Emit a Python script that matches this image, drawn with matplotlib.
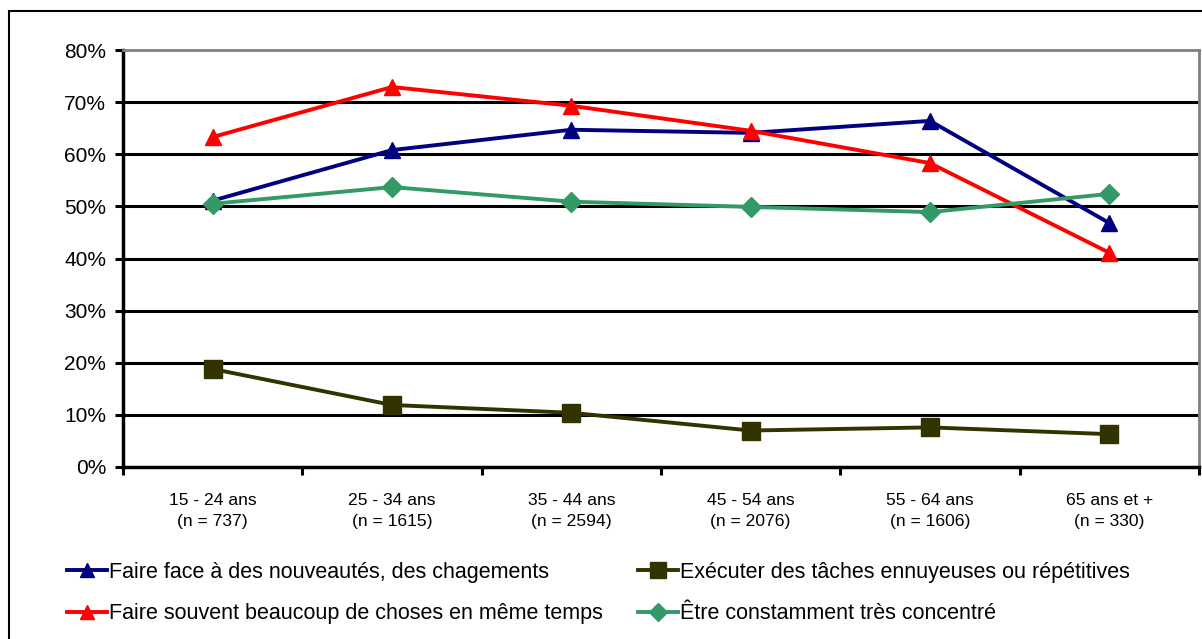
import matplotlib
matplotlib.use("Agg")
import matplotlib.pyplot as plt
from matplotlib import font_manager
from matplotlib.patches import Rectangle

categories = ["15 - 24 ans\n(n = 737)", "25 - 34 ans\n(n = 1615)", "35 - 44 ans\n(n = 2594)",
              "45 - 54 ans\n(n = 2076)", "55 - 64 ans\n(n = 1606)", "65 ans et +\n(n = 330)"]
nouveautes = [51.1, 60.8, 64.7, 64.1, 66.4, 46.8]
taches = [18.8, 11.9, 10.4, 7.0, 7.6, 6.3]
choses = [63.3, 72.9, 69.3, 64.5, 58.3, 41.1]
concentre = [50.5, 53.7, 50.9, 49.9, 48.9, 52.4]
yticks = [0, 10, 20, 30, 40, 50, 60, 70, 80]

names = [f.name for f in font_manager.fontManager.ttflist]
base = "Liberation Sans" if "Liberation Sans" in names else "DejaVu Sans"
plt.rcParams['font.family'] = [base, 'DejaVu Sans']

fig = plt.figure(figsize=(12.02, 6.39), dpi=100)
ax = fig.add_axes([123/1202, 1 - 467/639, (1199-123)/1202, (467-50)/639])

x = list(range(len(categories)))
l1, = ax.plot(x, nouveautes, color="#000080", lw=2.8, marker="^", ms=12, label="Faire face à des nouveautés, des chagements", zorder=5)
l2, = ax.plot(x, taches, color="#333300", lw=2.8, marker="s", ms=13, label="Exécuter des tâches ennuyeuses ou répétitives", zorder=5)
l3, = ax.plot(x, choses, color="#FF0000", lw=2.8, marker="^", ms=12, label="Faire souvent beaucoup de choses en même temps", zorder=5)
l4, = ax.plot(x, concentre, color="#339966", lw=2.8, marker="D", ms=10.5, label="Être constamment très concentré", zorder=5)

ax.set_xlim(-0.5, len(categories) - 0.5)
ax.set_ylim(0, 80)
ax.set_yticks(yticks)
ax.set_yticklabels([f"{v}%" for v in yticks], fontsize=15)
for v in yticks[1:-1]:
    ax.axhline(v, color="black", lw=2.2, zorder=1)
ax.set_xticks([i + 0.5 for i in range(-1, len(categories))], minor=False)
ax.set_xticklabels([])
ax.set_xticks(x, minor=True)
ax.set_xticklabels(categories, minor=True, fontsize=12.6, linespacing=1.5)
ax.tick_params(axis="x", which="minor", length=0, pad=19)
ax.tick_params(axis="x", which="major", length=6, width=2.2, direction="out")
ax.tick_params(axis="y", length=6, width=2.2, direction="out", pad=6)

for s in ["top", "right"]:
    ax.spines[s].set_color("#808080")
    ax.spines[s].set_linewidth(2)
for s in ["left", "bottom"]:
    ax.spines[s].set_color("black")
    ax.spines[s].set_linewidth(2.5)

legkw = dict(frameon=False, prop={"size": 15.5}, handlelength=1.85, handletextpad=0.12,
             labelspacing=0.95, markerscale=0.85, borderpad=0, borderaxespad=0, loc="upper left")
leg1 = fig.legend(handles=[l1, l3], bbox_to_anchor=(67/1202, 1 - 562/639), **legkw)
leg2 = fig.legend(handles=[l2, l4], bbox_to_anchor=(638/1202, 1 - 562/639), **legkw)

fig.patches.append(Rectangle((9/1202, -0.1), 1.2, 1 - 11/639 + 0.1, transform=fig.transFigure,
                             fill=False, edgecolor="black", lw=1.5))

fig.savefig("out.png", dpi=100)
